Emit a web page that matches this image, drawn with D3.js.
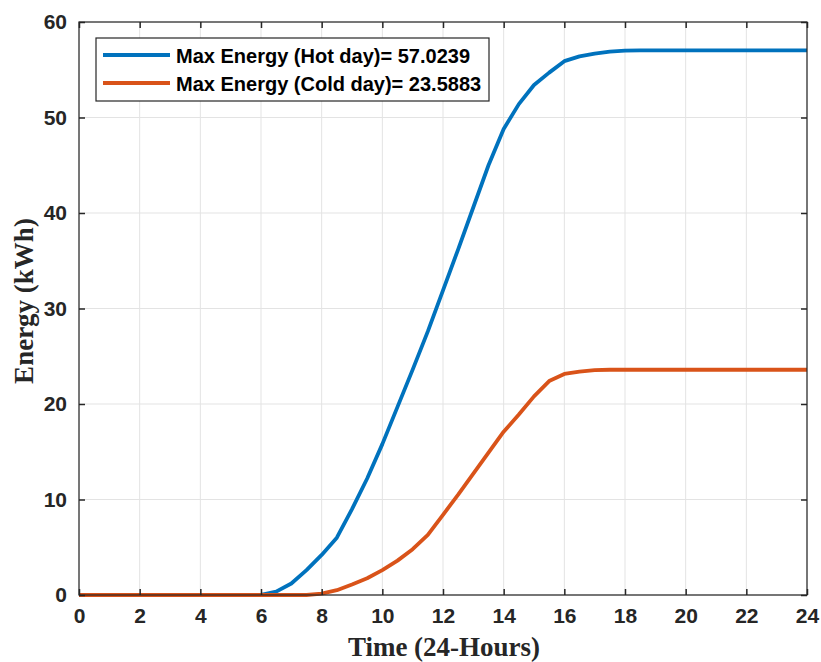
<!DOCTYPE html>
<html lang="en">
  <head>
    <meta charset="utf-8">
    <title>Energy chart</title>
    <script src="https://cdnjs.cloudflare.com/ajax/libs/d3/7.8.5/d3.min.js"></script>
    <style type="text/css">
      body { margin: 0; background: #fff; }
    </style>
  </head>
  <body>
    <script type="text/javascript">
    // time axis, half-hour steps
    var hours = d3.range(0, 24.01, 0.5);

    var hotDay = [0,0,0,0,0,0,0,0,0,0,0,0,
      0.02,0.35,1.2,2.6,4.2,6.0,9.0,12.2,15.8,19.7,23.6,27.6,31.9,36.2,40.6,45.0,
      48.8,51.4,53.4,54.7,55.9,56.4,56.7,56.9,57.0,57.02,
      57.0239,57.0239,57.0239,57.0239,57.0239,57.0239,57.0239,57.0239,57.0239,57.0239,57.0239];

    var coldDay = [0,0,0,0,0,0,0,0,0,0,0,0,0,0,0,0,
      0.15,0.5,1.1,1.75,2.6,3.6,4.8,6.3,8.4,10.5,12.7,14.9,17.1,18.9,20.8,22.4,
      23.15,23.4,23.55,
      23.5883,23.5883,23.5883,23.5883,23.5883,23.5883,23.5883,23.5883,23.5883,23.5883,23.5883,23.5883,23.5883,23.5883];

    var legendLabels = ["Max Energy (Hot day)= 57.0239", "Max Energy (Cold day)= 23.5883"];
    var colors = ["#0072BD", "#D95319"];
    var xTicks = d3.range(0, 25, 2);
    var yTicks = d3.range(0, 61, 10);

    var w = 821, h = 662;
    var mLeft = 79, mRight = 807, mTop = 22, mBottom = 595;

    var svg = d3.select("body").append("svg")
      .attr("width", w)
      .attr("height", h);

    var x = d3.scaleLinear().domain([0, 24]).range([mLeft, mRight]);
    var y = d3.scaleLinear().domain([0, 60]).range([mBottom, mTop]);

    // grid
    svg.append("g").selectAll("line")
      .data(xTicks).enter().append("line")
      .attr("x1", d => x(d)).attr("x2", d => x(d))
      .attr("y1", mTop).attr("y2", mBottom)
      .attr("stroke", "#e3e3e3").attr("stroke-width", 1);
    svg.append("g").selectAll("line")
      .data(yTicks).enter().append("line")
      .attr("y1", d => y(d)).attr("y2", d => y(d))
      .attr("x1", mLeft).attr("x2", mRight)
      .attr("stroke", "#e3e3e3").attr("stroke-width", 1);

    // lines
    var series = [hotDay, coldDay];
    var line = d3.line()
      .x((d, i) => x(hours[i]))
      .y(d => y(d));
    svg.append("g").selectAll("path")
      .data(series).enter().append("path")
      .attr("d", line)
      .attr("fill", "none")
      .attr("stroke", (d, i) => colors[i])
      .attr("stroke-width", 3.8)
      .attr("stroke-linejoin", "round");

    // axes, ticks pointing inward on all four sides
    var tickFont = function(g) {
      g.select(".domain").remove();
      g.selectAll(".tick line").attr("stroke", "#262626").attr("stroke-width", 1.5);
      g.selectAll(".tick text")
        .attr("font-family", "'Liberation Sans', Arial, sans-serif")
        .attr("font-weight", "bold")
        .attr("font-size", "21px")
        .attr("fill", "#262626");
    };
    svg.append("g").attr("transform", "translate(0," + mBottom + ")")
      .call(d3.axisBottom(x).tickValues(xTicks).tickSizeInner(-6).tickPadding(13))
      .call(tickFont);
    svg.append("g").attr("transform", "translate(0," + mTop + ")")
      .call(d3.axisTop(x).tickValues(xTicks).tickSizeInner(-6).tickFormat(""))
      .call(tickFont);
    svg.append("g").attr("transform", "translate(" + mLeft + ",0)")
      .call(d3.axisLeft(y).tickValues(yTicks).tickSizeInner(-6).tickPadding(12))
      .call(tickFont);
    svg.append("g").attr("transform", "translate(" + mRight + ",0)")
      .call(d3.axisRight(y).tickValues(yTicks).tickSizeInner(-6).tickFormat(""))
      .call(tickFont);

    svg.append("rect")
      .attr("x", mLeft).attr("y", mTop)
      .attr("width", mRight - mLeft).attr("height", mBottom - mTop)
      .attr("fill", "none").attr("stroke", "#262626").attr("stroke-width", 1.2);

    // axis titles
    svg.append("text")
      .attr("x", 444).attr("y", 656)
      .attr("text-anchor", "middle")
      .attr("font-family", "'Liberation Serif', 'Times New Roman', serif")
      .attr("font-weight", "bold").attr("font-size", "27px")
      .attr("fill", "#262626")
      .text("Time (24-Hours)");
    svg.append("text")
      .attr("transform", "translate(33,301) rotate(-90)")
      .attr("text-anchor", "middle")
      .attr("font-family", "'Liberation Serif', 'Times New Roman', serif")
      .attr("font-weight", "bold").attr("font-size", "27px")
      .attr("fill", "#262626")
      .text("Energy (kWh)");

    // legend
    var lg = svg.append("g");
    lg.append("rect")
      .attr("x", 96).attr("y", 38).attr("width", 393).attr("height", 63)
      .attr("fill", "#fff").attr("stroke", "#262626").attr("stroke-width", 1.2);
    var items = lg.selectAll("g")
      .data(legendLabels).enter().append("g")
      .attr("transform", (d, i) => "translate(0," + (55 + i * 28) + ")");
    items.append("line")
      .attr("x1", 103).attr("x2", 170).attr("y1", 0).attr("y2", 0)
      .attr("stroke", (d, i) => colors[i]).attr("stroke-width", 3.8);
    items.append("text")
      .attr("x", 176).attr("y", 8)
      .attr("font-family", "'Liberation Sans', Arial, sans-serif")
      .attr("font-weight", "bold").attr("font-size", "20px")
      .attr("fill", "#000")
      .text(d => d);
    </script>
  </body>
</html>
